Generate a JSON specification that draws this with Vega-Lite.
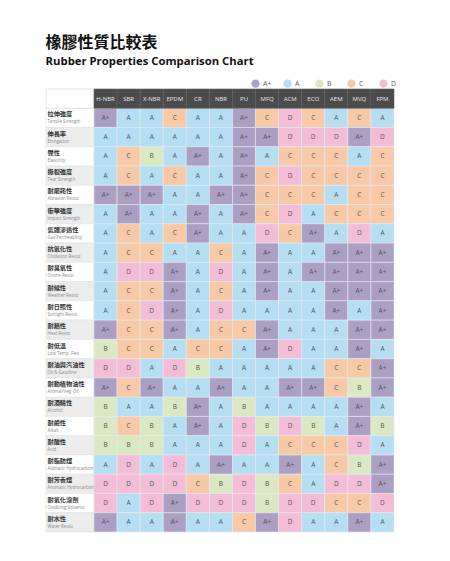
{
  "$schema": "https://vega.github.io/schema/vega-lite/v6.json",
  "padding": {"left": 45, "top": 34, "right": 0, "bottom": 0},
  "background": "#ffffff",
  "spacing": 0,
  "bounds": "flush",
  "config": {"view": {"stroke": null}, "concat": {"spacing": 0}},
  "title": {
    "text": "橡膠性質比較表",
    "subtitle": "Rubber Properties Comparison Chart",
    "anchor": "start",
    "font": "Noto Sans CJK TC",
    "fontSize": 16,
    "fontWeight": "bold",
    "color": "#111111",
    "subtitleFont": "Open Sans",
    "subtitleFontSize": 11.3,
    "subtitleFontWeight": "bold",
    "subtitleColor": "#111111",
    "subtitlePadding": 5,
    "offset": 12
  },
  "datasets": {
    "rubbers": [
      {"rubber": "H-NBR"}, {"rubber": "SBR"}, {"rubber": "X-NBR"}, {"rubber": "EPDM"}, {"rubber": "CR"},
      {"rubber": "NBR"}, {"rubber": "PU"}, {"rubber": "MFQ"}, {"rubber": "ACM"}, {"rubber": "ECO"},
      {"rubber": "AEM"}, {"rubber": "MVQ"}, {"rubber": "FPM"}
    ],
    "props": [
      {"zh": "拉伸強度", "en": "Tensile Strength", "H-NBR": "A+", "SBR": "A", "X-NBR": "A", "EPDM": "C", "CR": "A", "NBR": "A", "PU": "A+", "MFQ": "C", "ACM": "D", "ECO": "C", "AEM": "A", "MVQ": "C", "FPM": "A"},
      {"zh": "伸長率", "en": "Elongation", "H-NBR": "A", "SBR": "A", "X-NBR": "A", "EPDM": "A", "CR": "A", "NBR": "A", "PU": "A+", "MFQ": "A+", "ACM": "D", "ECO": "D", "AEM": "D", "MVQ": "A+", "FPM": "D"},
      {"zh": "彈性", "en": "Elasticity", "H-NBR": "A", "SBR": "C", "X-NBR": "B", "EPDM": "A", "CR": "A+", "NBR": "A", "PU": "A+", "MFQ": "A", "ACM": "C", "ECO": "C", "AEM": "C", "MVQ": "A", "FPM": "C"},
      {"zh": "撕裂強度", "en": "Tear Strength", "H-NBR": "A", "SBR": "C", "X-NBR": "A", "EPDM": "C", "CR": "A", "NBR": "A", "PU": "A+", "MFQ": "C", "ACM": "D", "ECO": "C", "AEM": "C", "MVQ": "C", "FPM": "C"},
      {"zh": "耐磨耗性", "en": "Abrasion Resist", "H-NBR": "A+", "SBR": "A+", "X-NBR": "A+", "EPDM": "A", "CR": "A", "NBR": "A+", "PU": "A+", "MFQ": "C", "ACM": "C", "ECO": "C", "AEM": "A", "MVQ": "C", "FPM": "C"},
      {"zh": "衝擊強度", "en": "Impact Strength", "H-NBR": "A", "SBR": "A+", "X-NBR": "A", "EPDM": "A", "CR": "A+", "NBR": "A", "PU": "A+", "MFQ": "C", "ACM": "D", "ECO": "A", "AEM": "C", "MVQ": "C", "FPM": "C"},
      {"zh": "氣體滲透性", "en": "Gas Permeability", "H-NBR": "A", "SBR": "C", "X-NBR": "A", "EPDM": "C", "CR": "A+", "NBR": "A", "PU": "A", "MFQ": "D", "ACM": "C", "ECO": "A+", "AEM": "A", "MVQ": "D", "FPM": "A"},
      {"zh": "抗氧化性", "en": "Oxidation Resist", "H-NBR": "A", "SBR": "C", "X-NBR": "C", "EPDM": "A", "CR": "A", "NBR": "C", "PU": "A", "MFQ": "A+", "ACM": "A", "ECO": "A", "AEM": "A+", "MVQ": "A+", "FPM": "A+"},
      {"zh": "耐臭氧性", "en": "Ozone Resist", "H-NBR": "A", "SBR": "D", "X-NBR": "D", "EPDM": "A+", "CR": "A", "NBR": "D", "PU": "A", "MFQ": "A+", "ACM": "A", "ECO": "A+", "AEM": "A+", "MVQ": "A+", "FPM": "A+"},
      {"zh": "耐候性", "en": "Weather Resist", "H-NBR": "A", "SBR": "C", "X-NBR": "C", "EPDM": "A+", "CR": "A", "NBR": "C", "PU": "A", "MFQ": "A+", "ACM": "A", "ECO": "A", "AEM": "A+", "MVQ": "A+", "FPM": "A+"},
      {"zh": "耐日照性", "en": "Sunlight Resist", "H-NBR": "A", "SBR": "C", "X-NBR": "D", "EPDM": "A+", "CR": "A", "NBR": "D", "PU": "A", "MFQ": "A", "ACM": "A", "ECO": "A", "AEM": "A+", "MVQ": "A", "FPM": "A+"},
      {"zh": "耐熱性", "en": "Heat Resist", "H-NBR": "A+", "SBR": "C", "X-NBR": "C", "EPDM": "A+", "CR": "A", "NBR": "C", "PU": "C", "MFQ": "A+", "ACM": "A", "ECO": "A", "AEM": "A", "MVQ": "A+", "FPM": "A+"},
      {"zh": "耐低溫", "en": "Low Temp. Flex.", "H-NBR": "B", "SBR": "C", "X-NBR": "C", "EPDM": "A", "CR": "C", "NBR": "C", "PU": "A", "MFQ": "A+", "ACM": "D", "ECO": "A", "AEM": "A", "MVQ": "A+", "FPM": "A"},
      {"zh": "耐油與汽油性", "en": "Oil & Gasoline", "H-NBR": "D", "SBR": "D", "X-NBR": "A", "EPDM": "D", "CR": "B", "NBR": "A", "PU": "A", "MFQ": "A", "ACM": "A", "ECO": "A", "AEM": "C", "MVQ": "C", "FPM": "A+"},
      {"zh": "耐動植物油性", "en": "Animal/Veg. Oil", "H-NBR": "A+", "SBR": "C", "X-NBR": "A+", "EPDM": "A", "CR": "A", "NBR": "A+", "PU": "A", "MFQ": "A", "ACM": "A+", "ECO": "A+", "AEM": "C", "MVQ": "B", "FPM": "A+"},
      {"zh": "耐酒精性", "en": "Alcohol", "H-NBR": "B", "SBR": "A", "X-NBR": "A", "EPDM": "B", "CR": "A+", "NBR": "A", "PU": "B", "MFQ": "A", "ACM": "A", "ECO": "A", "AEM": "A", "MVQ": "A+", "FPM": "A"},
      {"zh": "耐鹼性", "en": "Alkali", "H-NBR": "B", "SBR": "C", "X-NBR": "B", "EPDM": "A", "CR": "A+", "NBR": "A", "PU": "D", "MFQ": "B", "ACM": "D", "ECO": "B", "AEM": "A", "MVQ": "A+", "FPM": "B"},
      {"zh": "耐酸性", "en": "Acid", "H-NBR": "B", "SBR": "B", "X-NBR": "B", "EPDM": "A", "CR": "A", "NBR": "A", "PU": "D", "MFQ": "A", "ACM": "C", "ECO": "C", "AEM": "C", "MVQ": "D", "FPM": "A"},
      {"zh": "耐脂肪烴", "en": "Aliphatic Hydrocarbons", "H-NBR": "A", "SBR": "D", "X-NBR": "A", "EPDM": "D", "CR": "A", "NBR": "A+", "PU": "A", "MFQ": "A", "ACM": "A+", "ECO": "A", "AEM": "C", "MVQ": "B", "FPM": "A+"},
      {"zh": "耐芳香烴", "en": "Aromatic Hydrocarbons", "H-NBR": "D", "SBR": "D", "X-NBR": "D", "EPDM": "D", "CR": "C", "NBR": "B", "PU": "D", "MFQ": "B", "ACM": "C", "ECO": "A", "AEM": "D", "MVQ": "D", "FPM": "A+"},
      {"zh": "耐氧化溶劑", "en": "Oxidizing Solvents", "H-NBR": "D", "SBR": "A", "X-NBR": "D", "EPDM": "A+", "CR": "D", "NBR": "D", "PU": "D", "MFQ": "B", "ACM": "D", "ECO": "D", "AEM": "C", "MVQ": "C", "FPM": "D"},
      {"zh": "耐水性", "en": "Water Resist", "H-NBR": "A+", "SBR": "A", "X-NBR": "A", "EPDM": "A+", "CR": "A", "NBR": "A", "PU": "C", "MFQ": "A+", "ACM": "D", "ECO": "A", "AEM": "A", "MVQ": "A+", "FPM": "A"}
    ]
  },
  "hconcat": [
    {
      "width": 48,
      "height": 443,
      "layer": [
        {
          "data": {"name": "props"},
          "transform": [{"window": [{"op": "row_number", "as": "rn"}]}],
          "layer": [
            {
              "mark": {"type": "rect", "stroke": "#e2e2e2", "strokeWidth": 0.6},
              "encoding": {
                "y": {"field": "en", "type": "nominal", "axis": null, "scale": {"domain": ["header", "Tensile Strength", "Elongation", "Elasticity", "Tear Strength", "Abrasion Resist", "Impact Strength", "Gas Permeability", "Oxidation Resist", "Ozone Resist", "Weather Resist", "Sunlight Resist", "Heat Resist", "Low Temp. Flex.", "Oil & Gasoline", "Animal/Veg. Oil", "Alcohol", "Alkali", "Acid", "Aliphatic Hydrocarbons", "Aromatic Hydrocarbons", "Oxidizing Solvents", "Water Resist"], "paddingInner": 0, "paddingOuter": 0}},
                "fill": {"condition": {"test": "datum.rn % 2 == 0", "value": "#ececec"}, "value": "#ffffff"}
              }
            },
            {
              "mark": {"type": "text", "align": "left", "dx": -22.5, "dy": -3.5, "fontSize": 6.2, "fontWeight": "bold", "font": "Noto Sans CJK TC", "color": "#333333"},
              "encoding": {
                "y": {"field": "en", "type": "nominal", "axis": null},
                "text": {"field": "zh"}
              }
            },
            {
              "mark": {"type": "text", "align": "left", "dx": -22.5, "dy": 4.5, "fontSize": 4.4, "font": "Open Sans", "color": "#8a8a8a"},
              "encoding": {
                "y": {"field": "en", "type": "nominal", "axis": null},
                "text": {"field": "en"}
              }
            }
          ]
        },
        {
          "data": {"values": [{"k": "blank"}]},
          "mark": {"type": "rect", "fill": "#ffffff", "stroke": "#dddddd", "strokeWidth": 0.8},
          "encoding": {"y": {"datum": "header", "type": "nominal"}}
        }
      ]
    },
    {
      "width": 300,
      "height": 443,
      "layer": [
        {
          "data": {"name": "props"},
          "transform": [{"fold": ["H-NBR", "SBR", "X-NBR", "EPDM", "CR", "NBR", "PU", "MFQ", "ACM", "ECO", "AEM", "MVQ", "FPM"], "as": ["rubber", "grade"]}],
          "layer": [
            {
              "mark": {"type": "rect", "stroke": "#e4eaee", "strokeWidth": 0.6},
              "encoding": {
                "x": {"field": "rubber", "type": "nominal", "axis": null, "scale": {"domain": ["H-NBR", "SBR", "X-NBR", "EPDM", "CR", "NBR", "PU", "MFQ", "ACM", "ECO", "AEM", "MVQ", "FPM"], "paddingInner": 0, "paddingOuter": 0}},
                "y": {"field": "en", "type": "nominal", "axis": null, "scale": {"domain": ["header", "Tensile Strength", "Elongation", "Elasticity", "Tear Strength", "Abrasion Resist", "Impact Strength", "Gas Permeability", "Oxidation Resist", "Ozone Resist", "Weather Resist", "Sunlight Resist", "Heat Resist", "Low Temp. Flex.", "Oil & Gasoline", "Animal/Veg. Oil", "Alcohol", "Alkali", "Acid", "Aliphatic Hydrocarbons", "Aromatic Hydrocarbons", "Oxidizing Solvents", "Water Resist"], "paddingInner": 0, "paddingOuter": 0}},
                "fill": {
                  "field": "grade", "type": "nominal",
                  "scale": {"domain": ["A+", "A", "B", "C", "D"], "range": ["#ab9fc3", "#b6def3", "#dae9c3", "#f7c9a6", "#f4bdd7"]},
                  "legend": {"title": null, "orient": "none", "legendX": 205, "legendY": -10, "direction": "horizontal", "columns": 5, "symbolType": "circle", "symbolSize": 70, "symbolStrokeWidth": 0, "symbolOpacity": 1, "labelFontSize": 7, "labelFont": "Open Sans", "labelColor": "#666666", "columnPadding": 11, "gridAlign": "all", "labelOffset": 3}
                }
              }
            },
            {
              "mark": {"type": "text", "fontSize": 6.5, "font": "Open Sans", "color": "#555555"},
              "encoding": {
                "x": {"field": "rubber", "type": "nominal"},
                "y": {"field": "en", "type": "nominal"},
                "text": {"field": "grade"}
              }
            }
          ]
        },
        {
          "data": {"name": "rubbers"},
          "layer": [
            {
              "mark": {"type": "rect", "fill": "#4b4b4b", "stroke": "#606060", "strokeWidth": 0.6},
              "encoding": {
                "x": {"field": "rubber", "type": "nominal"},
                "y": {"datum": "header", "type": "nominal"}
              }
            },
            {
              "mark": {"type": "text", "fontSize": 6, "font": "Open Sans", "color": "#e6e6e6"},
              "encoding": {
                "x": {"field": "rubber", "type": "nominal"},
                "y": {"datum": "header", "type": "nominal"},
                "text": {"field": "rubber"}
              }
            }
          ]
        }
      ]
    }
  ]
}
